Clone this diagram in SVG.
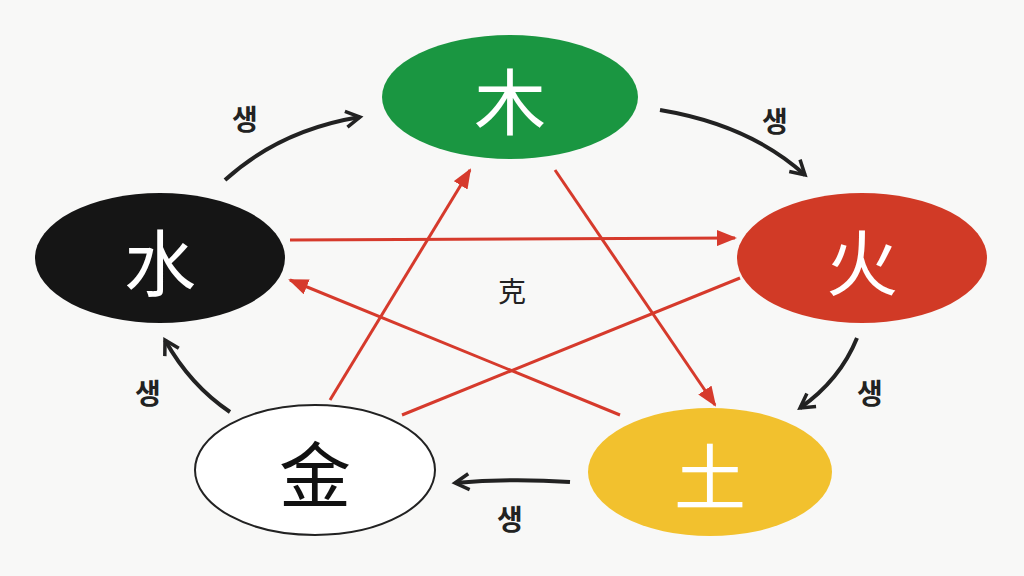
<svg xmlns="http://www.w3.org/2000/svg" width="1024" height="576" viewBox="0 0 1024 576">
<defs>
<marker id="ab" markerWidth="10" markerHeight="10" refX="8" refY="5" orient="auto" markerUnits="userSpaceOnUse"><path d="M1,0 L9,5 L1,10" fill="none" stroke="#222" stroke-width="2.5"/></marker>
<marker id="ar" markerWidth="20" markerHeight="16" refX="18" refY="8" orient="auto" markerUnits="userSpaceOnUse"><path d="M0,0 L20,8 L0,16 Z" fill="#d63a2c"/></marker>
<marker id="ak" markerWidth="20" markerHeight="20" refX="16" refY="10" orient="auto" markerUnits="userSpaceOnUse"><path d="M2,2 L16,10 L2,18" fill="none" stroke="#222" stroke-width="3.5"/></marker>
</defs>
<style>
.big{font-family:"Noto Sans CJK SC","Noto Sans CJK KR",sans-serif;font-size:72px;text-anchor:middle;dominant-baseline:central}
.lbl{font-family:"Noto Sans CJK KR",sans-serif;font-size:28px;font-weight:bold;text-anchor:middle;dominant-baseline:central;fill:#222}
.k{stroke:#222;stroke-width:4;fill:none;marker-end:url(#ak)}
.r{stroke:#d63a2c;stroke-width:3;fill:none}
</style>
<rect width="1024" height="576" fill="#f8f8f7"/>
<g id="connectors">
<path class="r" d="M290,240 L735,238" marker-end="url(#ar)"/>
<path class="r" d="M740,278 L402,415"/>
<path class="r" d="M330,400 L470,170" marker-end="url(#ar)"/>
<path class="r" d="M555,170 L715,405" marker-end="url(#ar)"/>
<path class="r" d="M620,415 L290,280" marker-end="url(#ar)"/>
<path class="k" d="M225,180 Q280,130 360,117"/>
<path class="k" d="M660,110 Q750,125 805,175"/>
<path class="k" d="M857,338 Q840,380 800,408"/>
<path class="k" d="M570,482 Q510,478 455,483"/>
<path class="k" d="M230,412 Q190,385 165,340"/>
</g>
<g id="wood"><ellipse cx="510" cy="97" rx="128" ry="62" fill="#1a9641"/><text class="big" x="510" y="97" fill="#fff">木</text></g>
<g id="fire"><ellipse cx="862" cy="258" rx="125" ry="65" fill="#d13a26"/><text class="big" x="862" y="258" fill="#fff">火</text></g>
<g id="earth"><ellipse cx="710" cy="472" rx="122" ry="64" fill="#f2c12e"/><text class="big" x="710" y="472" fill="#fff">土</text></g>
<g id="metal"><ellipse cx="315" cy="470" rx="120" ry="65" fill="#fff" stroke="#222" stroke-width="2"/><text class="big" x="315" y="470" fill="#111">金</text></g>
<g id="water"><ellipse cx="160" cy="258" rx="125" ry="65" fill="#151515"/><text class="big" x="160" y="258" fill="#fff">水</text></g>
<g id="labels">
<text class="lbl" x="245" y="118">생</text>
<text class="lbl" x="775" y="120">생</text>
<text class="lbl" x="870" y="392">생</text>
<text class="lbl" x="510" y="518">생</text>
<text class="lbl" x="148" y="392">생</text>
<text class="lbl" x="512" y="290" style="font-weight:normal;font-family:'Noto Sans CJK SC',sans-serif">克</text>
</g>
</svg>
